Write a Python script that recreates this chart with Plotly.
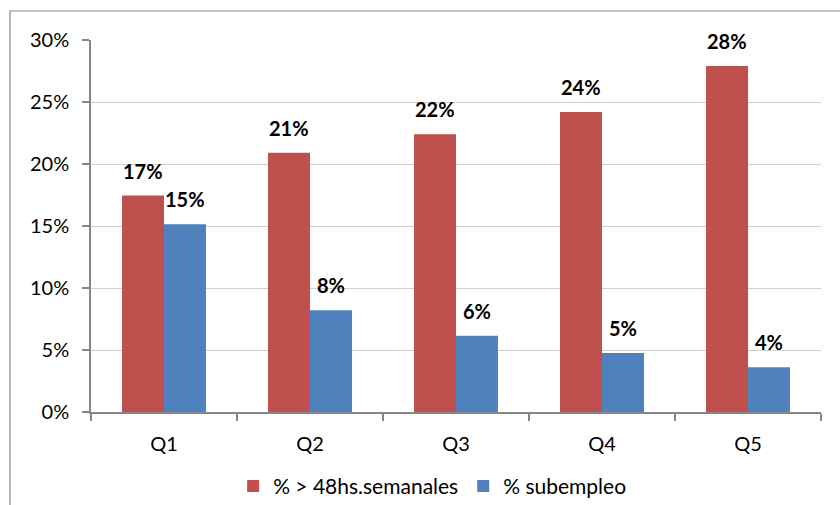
import plotly.graph_objects as go

categories = ["Q1", "Q2", "Q3", "Q4", "Q5"]
over48 = [17.45, 20.9, 22.4, 24.2, 27.9]
subempleo = [15.15, 8.2, 6.15, 4.75, 3.6]
label_over48 = ["17%", "21%", "22%", "24%", "28%"]
label_sub = ["15%", "8%", "6%", "5%", "4%"]
yticks = [0, 5, 10, 15, 20, 25, 30]
yticklabels = ["0%", "5%", "10%", "15%", "20%", "25%", "30%"]

RED = "#C0504D"
BLUE = "#4F81BD"
FONT = "Lato"
FS = 20

fig = go.Figure()
fig.add_trace(go.Bar(x=categories, y=over48, name="% > 48hs.semanales",
                     marker=dict(color=RED, line=dict(width=0))))
fig.add_trace(go.Bar(x=categories, y=subempleo, name="% subempleo",
                     marker=dict(color=BLUE, line=dict(width=0))))

annotations = []
for c, v, t in zip(categories, over48, label_over48):
    annotations.append(dict(x=c, y=v, xref="x", yref="y", text=t, showarrow=False,
                            xshift=-21, yshift=11, yanchor="bottom",
                            font=dict(family=FONT, size=FS, color="black", weight="bold")))
for c, v, t in zip(categories, subempleo, label_sub):
    annotations.append(dict(x=c, y=v, xref="x", yref="y", text=t, showarrow=False,
                            xshift=21, yshift=11, yanchor="bottom",
                            font=dict(family=FONT, size=FS, color="black", weight="bold")))

fig.update_layout(
    width=840, height=505,
    margin=dict(l=91, r=19, t=40, b=93, autoexpand=False),
    paper_bgcolor="white", plot_bgcolor="white",
    font=dict(family=FONT, size=FS, color="black"),
    barmode="group", bargap=0.425, bargroupgap=0,
    showlegend=True,
    legend=dict(orientation="h", x=0.468, xanchor="center", y=-0.2, yanchor="middle",
                font=dict(family=FONT, size=21), itemwidth=30, traceorder="normal"),
    annotations=annotations,
    shapes=[dict(type="rect", xref="paper", yref="paper", x0=-0.111, x1=1.05,
                 y0=-0.3, y1=1.078, line=dict(color="#898989", width=1.2),
                 fillcolor="rgba(0,0,0,0)", layer="below")],
)
fig.update_xaxes(showline=True, linecolor="#868686", linewidth=1.5,
                 ticks="outside", ticklen=7, tickcolor="#868686", tickwidth=1.5,
                 tickson="boundaries", showgrid=False, ticklabelstandoff=13,
                 tickfont=dict(family=FONT, size=FS))
fig.update_yaxes(range=[0, 30], tickvals=yticks, ticktext=yticklabels,
                 showline=True, linecolor="#868686", linewidth=1.5,
                 ticks="outside", ticklen=7, tickcolor="#868686", tickwidth=1.5,
                 showgrid=True, gridcolor="#D0D0D0", gridwidth=1.2,
                 zeroline=False, tickfont=dict(family=FONT, size=FS), ticklabelstandoff=9)

fig.write_html("out.html", config={"displayModeBar": False},
               post_script="document.body.style.margin='0';")
